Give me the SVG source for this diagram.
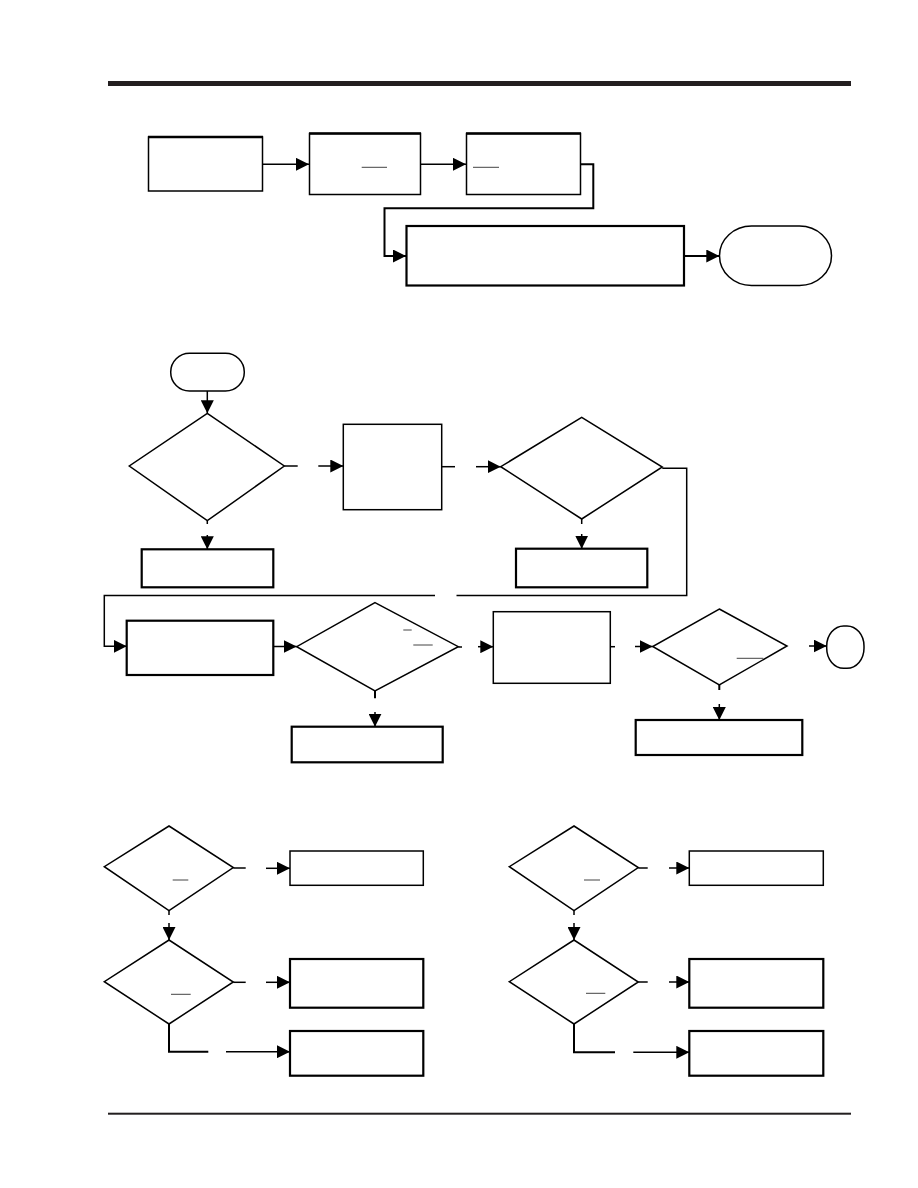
<svg xmlns="http://www.w3.org/2000/svg" width="918" height="1188" viewBox="0 0 918 1188">
<style>
.n{fill:#fff;stroke:#000;stroke-width:1.5}
.t{fill:#fff;stroke:#000;stroke-width:2.2}
.c{fill:none;stroke:#000;stroke-width:1.5}
.m{fill:none;stroke:#444;stroke-width:1}
</style>
<defs>
<marker id="a" markerUnits="userSpaceOnUse" markerWidth="14" markerHeight="13" refX="13" refY="6.5" orient="auto">
<path d="M0,0 L13,6.5 L0,13 z" fill="#000"/>
</marker>
</defs>
<rect x="108" y="81" width="743" height="5" fill="#231f20"/>
<rect x="108" y="1112.7" width="743" height="2" fill="#231f20"/>

<g id="connectors">
<path class="c" d="M263,164.3 H309" marker-end="url(#a)"/>
<path class="c" d="M420.3,164.3 H466" marker-end="url(#a)"/>
<path class="c" d="M580.7,164.3 H593.3 V208.3 H384.5 V256 H406" marker-end="url(#a)" style="stroke-width:2"/>
<path class="c" d="M684,256 H719.3" marker-end="url(#a)" style="stroke-width:2"/>
<path class="c" d="M207.3,391 V413.3" marker-end="url(#a)"/>
<path class="c" d="M284.3,466 H297.7"/>
<path class="c" d="M318.3,466 H343.3" marker-end="url(#a)"/>
<path class="c" d="M441.7,466.7 H455"/>
<path class="c" d="M476,466.7 H500.7" marker-end="url(#a)"/>
<path class="c" d="M207.3,520.7 V524"/>
<path class="c" d="M207.3,535 V549.3" marker-end="url(#a)"/>
<path class="c" d="M581.7,519 V524"/>
<path class="c" d="M581.7,534 V548.7" marker-end="url(#a)"/>
<path class="c" d="M662.3,468.3 H686.7 V595.5 H456.5"/>
<path class="c" d="M435,595.5 H104.3 V646.3 H126.7" marker-end="url(#a)"/>
<path class="c" d="M273.3,646.5 H296.7" marker-end="url(#a)"/>
<path class="c" d="M458.3,647 H462"/>
<path class="c" d="M478,646.7 H493.3" marker-end="url(#a)"/>
<path class="c" d="M375,691 V698.3" style="stroke-width:2"/>
<path class="c" d="M375,712 V726.7" marker-end="url(#a)"/>
<path class="c" d="M610.3,646.7 H615"/>
<path class="c" d="M635,646.5 H652.7" marker-end="url(#a)"/>
<path class="c" d="M719.3,685 V690" style="stroke-width:2"/>
<path class="c" d="M719.3,704 V720" marker-end="url(#a)"/>
<path class="c" d="M809,646 H826.7" marker-end="url(#a)"/>
<path class="c" d="M233.3,868 H245.7"/>
<path class="c" d="M266,868.3 H290" marker-end="url(#a)"/>
<path class="c" d="M169,910.7 V915"/>
<path class="c" d="M169,923 V940" marker-end="url(#a)"/>
<path class="c" d="M233.3,982.3 H245.7"/>
<path class="c" d="M266,982.3 H290" marker-end="url(#a)"/>
<path class="c" d="M169,1024 V1051.7 H208.3" style="stroke-width:2"/>
<path class="c" d="M226,1051.7 H290" marker-end="url(#a)"/>
<path class="c" d="M638.3,868 H647.7"/>
<path class="c" d="M669,868 H689.3" marker-end="url(#a)"/>
<path class="c" d="M574,910.7 V915"/>
<path class="c" d="M574,923 V940" marker-end="url(#a)"/>
<path class="c" d="M638.3,982 H647.7"/>
<path class="c" d="M669,982 H689.3" marker-end="url(#a)"/>
<path class="c" d="M574,1024 V1052.3 H615" style="stroke-width:2"/>
<path class="c" d="M633.3,1052.3 H689.3" marker-end="url(#a)"/>
</g>

<g id="box1"><rect class="n" x="148.5" y="137" width="114" height="54"/><line x1="148" y1="137" x2="263" y2="137" stroke="#000" stroke-width="2.5"/></g>
<g id="box2"><rect class="n" x="309.5" y="133.5" width="111" height="61"/><line x1="309" y1="133.5" x2="421" y2="133.5" stroke="#000" stroke-width="2.5"/><line class="m" x1="361.7" y1="167.3" x2="387" y2="167.3"/></g>
<g id="box3"><rect class="n" x="466.5" y="133.5" width="114" height="61"/><line x1="466" y1="133.5" x2="581" y2="133.5" stroke="#000" stroke-width="2.5"/><line class="m" x1="473" y1="167.3" x2="499" y2="167.3"/></g>
<g id="box4"><rect class="t" x="406.5" y="226" width="277.5" height="59.5"/></g>
<g id="end1"><rect class="n" x="719.5" y="226" width="112" height="59.5" rx="32" ry="30"/></g>

<g id="start"><rect class="n" x="170.7" y="353.3" width="73.6" height="37.7" rx="18.8" ry="18.8"/></g>
<g id="dec1"><polygon class="n" points="207.3,413.3 284.3,466 207.3,520.7 129.3,466"/></g>
<g id="box5"><rect class="n" x="343.3" y="424.3" width="98.4" height="85.4"/></g>
<g id="box6"><rect class="t" x="141.7" y="549.3" width="131.6" height="38"/></g>
<g id="dec2"><polygon class="n" points="581.7,417.3 662.3,467 581.7,519 500.7,466.7"/></g>
<g id="box7"><rect class="t" x="516" y="548.7" width="131.3" height="38.6"/></g>

<g id="box8"><rect class="t" x="126.7" y="620.7" width="146.6" height="54.3"/></g>
<g id="dec3"><polygon class="n" points="375,602.7 458.3,646.7 375,691 296.7,646.7"/><line class="m" x1="403.3" y1="630" x2="411.7" y2="630"/><line class="m" x1="413.3" y1="645" x2="432.7" y2="645"/></g>
<g id="box9"><rect class="t" x="291.7" y="726.7" width="151" height="35.6"/></g>
<g id="box10"><rect class="n" x="493.3" y="611.7" width="117" height="71.6"/></g>
<g id="dec4"><polygon class="n" points="719.3,609 787,646 719.3,685 652.7,646.5"/><line class="m" x1="736.7" y1="658.3" x2="763.3" y2="658.3"/></g>
<g id="end2"><rect class="n" x="826.7" y="626" width="37.3" height="42.3" rx="17" ry="20"/></g>
<g id="box11"><rect class="t" x="635.7" y="720" width="166.6" height="35"/></g>

<g id="dec5"><polygon class="n" points="169,826 233.3,867.5 169,910.7 104.3,866.7"/><line class="m" x1="172.7" y1="880" x2="188.3" y2="880"/></g>
<g id="box12"><rect class="n" x="290" y="851" width="133.3" height="34.3"/></g>
<g id="dec6"><polygon class="n" points="169,940 233.3,982 169,1024 104.3,981.7"/><line class="m" x1="171" y1="994.3" x2="190.7" y2="994.3"/></g>
<g id="box13"><rect class="t" x="290" y="959" width="133.3" height="48.7"/></g>
<g id="box14"><rect class="t" x="290" y="1031" width="133.3" height="44.7"/></g>

<g id="dec7"><polygon class="n" points="574,826 638.3,867.5 574,910.7 509.3,866.7"/><line class="m" x1="584" y1="880" x2="600" y2="880"/></g>
<g id="box15"><rect class="n" x="689.3" y="851" width="134" height="34.3"/></g>
<g id="dec8"><polygon class="n" points="574,940 638.3,982 574,1024 509.3,981.7"/><line class="m" x1="586" y1="993.3" x2="605.3" y2="993.3"/></g>
<g id="box16"><rect class="t" x="689.3" y="959" width="134" height="48.7"/></g>
<g id="box17"><rect class="t" x="689.3" y="1031" width="134" height="44.7"/></g>
</svg>
